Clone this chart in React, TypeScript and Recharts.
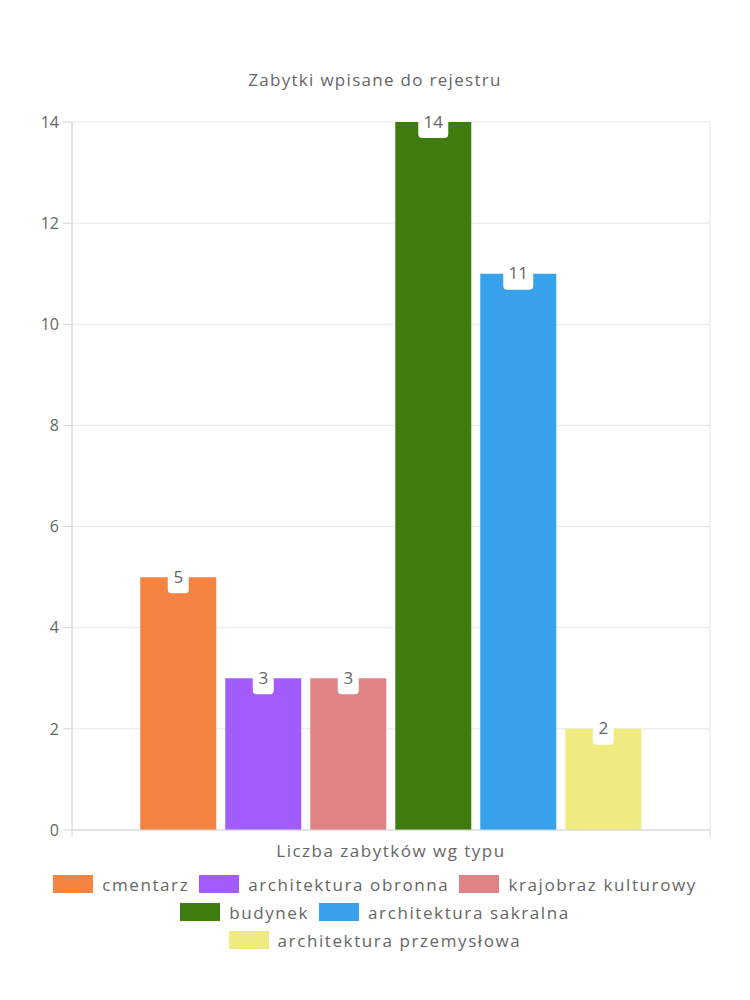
import { BarChart, Bar, XAxis, YAxis, CartesianGrid, Legend, LabelList } from "recharts";

const title = "Zabytki wpisane do rejestru";
const groupLabel = "Liczba zabytków wg typu";
const categories = [
  "cmentarz",
  "architektura obronna",
  "krajobraz kulturowy",
  "budynek",
  "architektura sakralna",
  "architektura przemysłowa",
];
const counts = [5, 3, 3, 14, 11, 2];
const colors = ["#f58442", "#a25bfc", "#e08384", "#3e7c0d", "#37a2eb", "#f0eb80"];
const yTicks = [0, 2, 4, 6, 8, 10, 12, 14];
const legendRows = [[0, 1, 2], [3, 4], [5]];

const FONT = "'Open Sans', 'Noto Sans', sans-serif";
const TEXT = "#666";

const row: Record<string, string | number> = { name: groupLabel };
categories.forEach((c, i) => {
  row[`s${i}`] = counts[i];
});
const data = [row];

function ValueLabel(props: any) {
  const { x, y, width, value } = props;
  const cx = x + width / 2;
  const w = String(value).length * 9 + 12;
  return (
    <g>
      <rect x={cx - w / 2} y={y - 12} width={w} height={28} rx={4} fill="#fff" />
      <text
        x={cx}
        y={y - 1}
        textAnchor="middle"
        dominantBaseline="central"
        fill={TEXT}
        fontSize={17}
        fontFamily={FONT}
      >
        {value}
      </text>
    </g>
  );
}

function CategoryTick(props: any) {
  const { x, y, payload } = props;
  const half = payload?.offset ?? 319;
  return (
    <g>
      <line x1={x - half} x2={x - half} y1={y - 16} y2={y - 8} stroke="#d6d6d6" />
      <line x1={x + half} x2={x + half} y1={y - 16} y2={y - 8} stroke="#d6d6d6" />
      <text x={x} y={y} dy="0.71em" textAnchor="middle" fill={TEXT} fontSize={17} fontFamily={FONT} letterSpacing={1.5}>
        {payload.value}
      </text>
    </g>
  );
}

function LegendContent() {
  return (
    <div style={{ fontFamily: FONT, fontSize: 17, color: TEXT, letterSpacing: 1.6 }}>
      {legendRows.map((r, ri) => (
        <div key={ri} style={{ display: "flex", justifyContent: "center", height: 28, alignItems: "center" }}>
          {r.map((i) => (
            <div key={i} style={{ display: "flex", alignItems: "center", margin: "0 5px" }}>
              <div style={{ width: 40, height: 18, background: colors[i], marginRight: 9 }} />
              <span>{categories[i]}</span>
            </div>
          ))}
        </div>
      ))}
    </div>
  );
}

export default function App() {
  return (
    <div style={{ position: "absolute", left: 0, top: 0, width: 750, height: 1000, background: "#fff" }}>
      <div
        style={{
          position: "absolute",
          top: 68,
          left: 0,
          width: 750,
          textAlign: "center",
          fontFamily: FONT,
          fontSize: 17,
          color: TEXT,
          letterSpacing: 1.3,
          lineHeight: "24px",
        }}
      >
        {title}
      </div>
      <BarChart
        width={750}
        height={1000}
        data={data}
        margin={{ top: 122, right: 40, bottom: 130, left: 0 }}
        barCategoryGap="10.7%"
        barGap={9}
      >
        <CartesianGrid
          stroke="#e6e6e6"
          verticalCoordinatesGenerator={({ offset }: any) => [offset.left, offset.left + offset.width]}
        />
        <XAxis
          dataKey="name"
          height={40}
          tickLine={false}
          tickSize={8}
          tickMargin={7}
          stroke="#d6d6d6"
          tick={<CategoryTick />}
        />
        <YAxis
          width={72}
          domain={[0, 14]}
          ticks={yTicks}
          interval={0}
          tickSize={9}
          tickMargin={4}
          stroke="#d6d6d6"
          tick={{ fill: TEXT, fontSize: 16, fontFamily: FONT }}
        />
        <Legend
          verticalAlign="middle"
          align="center"
          layout="horizontal"
          content={<LegendContent />}
          wrapperStyle={{ top: 870, left: 0, width: 750 }}
        />
        {categories.map((c, i) => (
          <Bar key={c} dataKey={`s${i}`} name={c} fill={colors[i]} isAnimationActive={false}>
            <LabelList dataKey={`s${i}`} content={<ValueLabel />} />
          </Bar>
        ))}
      </BarChart>
    </div>
  );
}
